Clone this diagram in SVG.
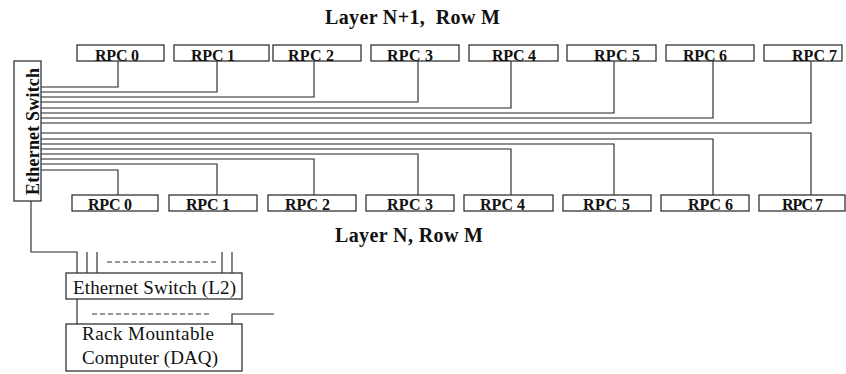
<svg xmlns="http://www.w3.org/2000/svg" width="846" height="374" viewBox="0 0 846 374">
<style>
.box{fill:#fff;stroke:#333;stroke-width:1.3}
.ln{fill:none;stroke:#222;stroke-width:1.1}
.dash{fill:none;stroke:#333;stroke-width:1;stroke-dasharray:5 3}
.rpc{font-family:"Liberation Serif","Times New Roman",serif;font-weight:bold;font-size:16px;fill:#111}
.title{font-family:"Liberation Serif","Times New Roman",serif;font-weight:bold;font-size:20px;fill:#111;white-space:pre}
.lbl{font-family:"Liberation Serif","Times New Roman",serif;font-size:19px;fill:#111}
</style>
<rect width="846" height="374" fill="#fff"/>
<text class="title" x="325" y="24" textLength="175" xml:space="preserve">Layer N+1,  Row M</text>
<text class="title" x="335" y="242" textLength="148">Layer N, Row M</text>
<g id="connectors">
<path class="ln" d="M41 87H118V61M41 92H217V61M41 97H314V61M41 102H418V61M41 108H511V61M41 113H614V61M41 118H713V61M41 123H811V61"/>
<path class="ln" d="M41 133H811V195M41 139H713V195M41 144H614V195M41 149H511V195M41 154H418V195M41 159H314V195M41 164H217V195M41 170H118V195"/>
<path class="ln" d="M31 201V252H77V273M87 252V273M97 252V273M222 252V273M232 252V273"/>
<path class="dash" d="M107 262H218"/>
<path class="ln" d="M77 299V324M232 324V314H274"/>
<path class="dash" d="M92 314H212"/>
</g>
<g id="switch">
<rect class="box" x="14" y="61" width="27" height="140"/>
<text class="title" style="font-size:18px" transform="translate(38.5,131.5) rotate(-90)" text-anchor="middle" textLength="127">Ethernet Switch</text>
</g>
<g id="top-rpc0"><rect class="box" x="77" y="45" width="87" height="16"/><text class="rpc" x="95" y="61" textLength="44">RPC 0</text></g>
<g id="top-rpc1"><rect class="box" x="174" y="45" width="95" height="16"/><text class="rpc" x="191" y="61" textLength="44">RPC 1</text></g>
<g id="top-rpc2"><rect class="box" x="273" y="45" width="88" height="16"/><text class="rpc" x="288" y="61" textLength="46">RPC 2</text></g>
<g id="top-rpc3"><rect class="box" x="371" y="45" width="88" height="16"/><text class="rpc" x="387" y="61" textLength="46">RPC 3</text></g>
<g id="top-rpc4"><rect class="box" x="469" y="45" width="89" height="16"/><text class="rpc" x="492" y="61" textLength="44">RPC 4</text></g>
<g id="top-rpc5"><rect class="box" x="567" y="45" width="89" height="16"/><text class="rpc" x="594" y="61" textLength="46">RPC 5</text></g>
<g id="top-rpc6"><rect class="box" x="666" y="45" width="88" height="16"/><text class="rpc" x="683" y="61" textLength="44">RPC 6</text></g>
<g id="top-rpc7"><rect class="box" x="764" y="45" width="78" height="16"/><text class="rpc" x="792" y="61" textLength="45">RPC 7</text></g>
<g id="bot-rpc0"><rect class="box" x="72" y="195" width="86" height="16"/><text class="rpc" x="88" y="210" textLength="44">RPC 0</text></g>
<g id="bot-rpc1"><rect class="box" x="169" y="195" width="88" height="16"/><text class="rpc" x="186" y="210" textLength="44">RPC 1</text></g>
<g id="bot-rpc2"><rect class="box" x="268" y="195" width="88" height="16"/><text class="rpc" x="285" y="210" textLength="45">RPC 2</text></g>
<g id="bot-rpc3"><rect class="box" x="366" y="195" width="88" height="16"/><text class="rpc" x="387" y="210" textLength="46">RPC 3</text></g>
<g id="bot-rpc4"><rect class="box" x="464" y="195" width="89" height="16"/><text class="rpc" x="480" y="210" textLength="45">RPC 4</text></g>
<g id="bot-rpc5"><rect class="box" x="563" y="195" width="88" height="16"/><text class="rpc" x="583" y="210" textLength="47">RPC 5</text></g>
<g id="bot-rpc6"><rect class="box" x="661" y="195" width="88" height="16"/><text class="rpc" x="688" y="210" textLength="45">RPC 6</text></g>
<g id="bot-rpc7"><rect class="box" x="759" y="195" width="86" height="16"/><text class="rpc" x="782" y="210" textLength="41">RPC 7</text></g>
<g id="l2-switch">
<rect class="box" x="66" y="273" width="176" height="26"/>
<text class="lbl" x="73" y="294" textLength="163">Ethernet Switch (L2)</text>
</g>
<g id="daq">
<rect class="box" x="66" y="324" width="176" height="47"/>
<text class="lbl" x="82" y="340" textLength="132">Rack Mountable</text>
<text class="lbl" x="82" y="364" textLength="136">Computer (DAQ)</text>
</g>
</svg>
